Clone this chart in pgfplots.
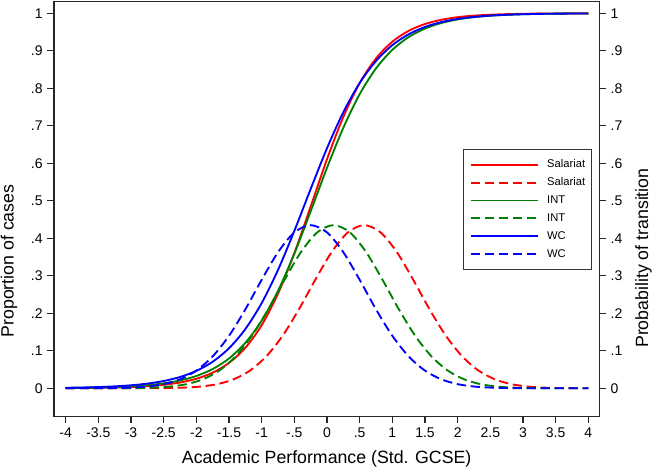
\documentclass[border=0pt]{standalone}
\usepackage{pgfplots}
\pgfplotsset{compat=1.18}
\usepackage{fontspec}
\setmainfont{Liberation Sans}
\definecolor{sred}{RGB}{255,0,0}
\definecolor{sgreen}{RGB}{0,128,0}
\definecolor{sblue}{RGB}{0,0,255}
\pgfplotsset{
  common/.style={
    at={(0,0)}, anchor=south west,
    scale only axis, width=408.975pt, height=311.25pt,
    xmin=-4.179, xmax=4.168, ymin=-0.0757, ymax=1.031,
    axis line style={line width=1.1pt, black!85},
    tick align=outside, major tick length=5pt,
    tick style={line width=0.8pt, black!85},
    ytick={0,0.1,0.2,0.3,0.4,0.5,0.6,0.7,0.8,0.9,1},
    yticklabels={0,.1,.2,.3,.4,.5,.6,.7,.8,.9,1},
    ticklabel style={font=\fontsize{10.5}{12}\selectfont},
    label style={font=\fontsize{13.3}{15}\selectfont},
  }
}
\begin{document}
\begin{tikzpicture}
\path[use as bounding box] (-40.5pt,-40pt) rectangle (450pt,312.5pt);
\begin{axis}[common,
  xtick={-4,-3.5,-3,-2.5,-2,-1.5,-1,-0.5,0,0.5,1,1.5,2,2.5,3,3.5,4},
  xticklabels={-4,-3.5,-3,-2.5,-2,-1.5,-1,-.5,0,.5,1,1.5,2,2.5,3,3.5,4},
  xtick pos=bottom, ytick pos=left,
  xlabel={Academic Performance (Std. GCSE)},
  ylabel={Proportion of cases},
  xlabel style={at={(axis description cs:0.5,-0.1012)}, anchor=center},
  ylabel style={at={(axis description cs:-0.0825,0.375)}, anchor=center},
  every axis plot/.append style={line width=1.4pt, smooth},
  legend image code/.code={\draw[#1, line width=1.4pt] (0pt,0pt) -- (50pt,0pt);},
  legend style={at={(axis cs:2.08,0.638)}, anchor=north west, draw=black!80, line width=0.6pt,
    fill=white, font=\fontsize{8.4}{10}\selectfont, inner xsep=5pt, inner ysep=7.5pt,
    row sep=5.4pt, column sep=6.5pt, cells={anchor=west},
    nodes={inner sep=0pt, text height=6.2pt, text depth=1.8pt}},
]
% Salariat solid
\addplot[sred] coordinates {
(-4,0.00043) (-3.75,0.00072) (-3.5,0.0012) (-3.25,0.0020) (-3,0.00334) (-2.75,0.00556)
(-2.5,0.00925) (-2.25,0.01535) (-2,0.02535) (-1.75,0.04162) (-1.5,0.06761) (-1.25,0.1080)
(-1,0.1681) (-0.75,0.2523) (-0.5,0.3603) (-0.25,0.4846) (0,0.6109) (0.25,0.7238)
(0.5,0.8140) (0.75,0.8796) (1,0.9242) (1.25,0.9532) (1.5,0.9714) (1.75,0.9827)
(2,0.9896) (2.25,0.9937) (2.5,0.9962) (2.75,0.9977) (3,0.9986) (3.25,0.9992)
(3.5,0.9995) (3.75,0.9997) (4,0.9998)};
\addlegendentry{Salariat}
% Salariat dashed
\addplot[sred, dash pattern=on 7pt off 3.5pt] coordinates {
(-4,0) (-2.93,0.00006) (-2.68,0.0002) (-2.43,0.00063) (-2.18,0.0018) (-1.93,0.00466)
(-1.68,0.0110) (-1.43,0.0239) (-1.18,0.0471) (-0.93,0.0850) (-0.68,0.1399) (-0.43,0.2105)
(-0.18,0.2892) (0.07,0.3628) (0.32,0.4157) (0.57,0.435) (0.82,0.4157) (1.07,0.3628)
(1.32,0.2892) (1.57,0.2105) (1.82,0.1399) (2.07,0.0850) (2.32,0.0471) (2.57,0.0239)
(2.82,0.0110) (3.07,0.00466) (3.32,0.0018) (3.57,0.00063) (3.82,0.0002) (4,0.00006)};
\addlegendentry{Salariat}
% INT solid
\addplot[sgreen] coordinates {
(-4,0.0008) (-3.75,0.00128) (-3.5,0.00205) (-3.25,0.00326) (-3,0.0052) (-2.75,0.00827)
(-2.5,0.01313) (-2.25,0.02079) (-2,0.03277) (-1.75,0.0513) (-1.5,0.0794) (-1.25,0.1211)
(-1,0.1803) (-0.75,0.2597) (-0.5,0.3590) (-0.25,0.4720) (0,0.5879) (0.25,0.6948)
(0.5,0.7842) (0.75,0.8529) (1,0.9025) (1.25,0.9366) (1.5,0.9593) (1.75,0.9741)
(2,0.9836) (2.25,0.9897) (2.5,0.9935) (2.75,0.9959) (3,0.9974) (3.25,0.9984)
(3.5,0.9990) (3.75,0.9994) (4,0.9996)};
\addlegendentry{INT}
% INT dashed
\addplot[sgreen, dash pattern=on 7pt off 3.5pt] coordinates {
(-4,0) (-3.4,0.00006) (-3.15,0.0002) (-2.9,0.00063) (-2.65,0.0018) (-2.4,0.00466)
(-2.15,0.0110) (-1.9,0.0239) (-1.65,0.0471) (-1.4,0.0850) (-1.15,0.1399) (-0.9,0.2105)
(-0.65,0.2892) (-0.4,0.3628) (-0.15,0.4157) (0.1,0.435) (0.35,0.4157) (0.6,0.3628)
(0.85,0.2892) (1.1,0.2105) (1.35,0.1399) (1.6,0.0850) (1.85,0.0471) (2.1,0.0239)
(2.35,0.0110) (2.6,0.00466) (2.85,0.0018) (3.1,0.00063) (3.35,0.0002) (3.6,0.00006) (4,0)};
\addlegendentry{INT}
% WC solid
\addplot[sblue] coordinates {
(-4,0.00133) (-3.75,0.00208) (-3.5,0.00326) (-3.25,0.0051) (-3,0.00797) (-2.75,0.01244)
(-2.5,0.01938) (-2.25,0.03006) (-2,0.04637) (-1.75,0.0708) (-1.5,0.1067) (-1.25,0.1579)
(-1,0.2272) (-0.75,0.3156) (-0.5,0.4197) (-0.25,0.5315) (0,0.6402) (0.25,0.7362)
(0.5,0.8140) (0.75,0.8728) (1,0.9150) (1.25,0.9440) (1.5,0.9636) (1.75,0.9765)
(2,0.9849) (2.25,0.9903) (2.5,0.9938) (2.75,0.9960) (3,0.9975) (3.25,0.9984)
(3.5,0.9990) (3.75,0.9993) (4,0.9996)};
\addlegendentry{WC}
% WC dashed
\addplot[sblue, dash pattern=on 7pt off 3.5pt] coordinates {
(-4,0.00002) (-3.75,0.00006) (-3.5,0.0002) (-3.25,0.00063) (-3,0.0018) (-2.75,0.00466)
(-2.5,0.0110) (-2.25,0.0239) (-2,0.0471) (-1.75,0.0850) (-1.5,0.1399) (-1.25,0.2105)
(-1,0.2892) (-0.75,0.3628) (-0.5,0.4157) (-0.25,0.435) (0,0.4157) (0.25,0.3628)
(0.5,0.2892) (0.75,0.2105) (1,0.1399) (1.25,0.0850) (1.5,0.0471) (1.75,0.0239)
(2,0.0110) (2.25,0.00466) (2.5,0.0018) (2.75,0.00063) (3,0.0002) (3.25,0.00006) (4,0)};
\addlegendentry{WC}
\end{axis}
\begin{axis}[common,
  axis x line=none, axis y line*=right,
  ylabel={Probability of transition},
  ylabel style={at={(axis description cs:1.0811,0.382)}, anchor=center, rotate=0},
]
\end{axis}
\end{tikzpicture}
\end{document}
